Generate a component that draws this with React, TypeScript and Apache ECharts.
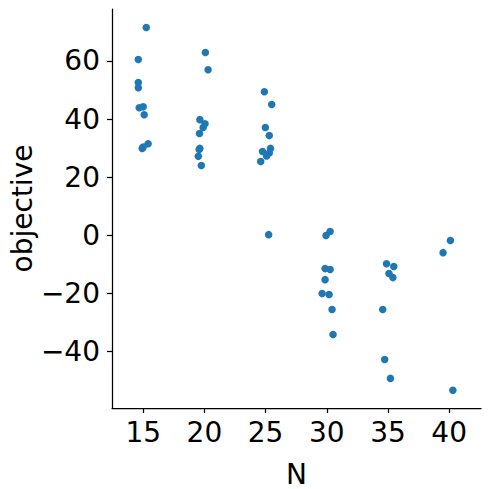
import React, { useEffect, useRef } from "react";
import * as echarts from "echarts";

// jittered N positions (strip plot) and objective values
const nPositions = [
  15.25, 14.6, 14.6, 14.6, 14.67, 15.0, 15.08, 14.92, 15.0, 15.4,
  20.08, 20.3, 19.63, 20.05, 19.9, 19.6, 19.63, 19.57, 19.5, 19.75,
  24.9, 25.5, 24.98, 25.3, 24.75, 25.4, 25.3, 25.08, 24.6, 25.25,
  30.27, 29.94, 29.86, 30.27, 29.86, 29.62, 30.19, 30.43, 30.51,
  34.88, 35.47, 35.08, 35.4, 34.57, 34.73, 35.2,
  40.1, 39.5, 40.3,
];
const objectiveValues = [
  71.5, 60.5, 52.6, 50.8, 43.9, 44.2, 41.5, 29.9, 30.4, 31.5,
  62.9, 57.0, 39.8, 38.4, 37.1, 35.0, 29.9, 29.5, 27.2, 24.0,
  49.4, 45.0, 37.1, 34.3, 28.8, 29.9, 28.3, 27.3, 25.4, 0.2,
  1.3, -0.1, -11.5, -11.8, -15.3, -20.1, -20.4, -25.6, -34.2,
  -9.8, -10.8, -13.2, -14.6, -25.6, -42.8, -49.3,
  -1.8, -6.0, -53.4,
];
const xTicks = [15, 20, 25, 30, 35, 40];
const yTicks = [-40, -20, 0, 20, 40, 60];

export default function App() {
  const ref = useRef<HTMLDivElement>(null);
  useEffect(() => {
    if (!ref.current) return;
    const chart = echarts.init(ref.current, null, { renderer: "svg" });
    const font = "DejaVu Sans";
    const fmt = (v: number) => String(v).replace("-", "\u2212");
    chart.setOption({
      animation: false,
      grid: { left: 112, right: 9, top: 9, bottom: 81, containLabel: false, outerBoundsMode: "none" },
      xAxis: {
        type: "value",
        min: 12.45,
        max: 42.6,
        interval: 5,
        name: "N",
        nameLocation: "middle",
        nameGap: 52,
        nameMoveOverlap: false,
        nameTextStyle: { fontFamily: font, fontSize: 28, color: "#000" },
        splitLine: { show: false },
        axisLine: { onZero: false, lineStyle: { color: "#000", width: 1.25 } },
        axisTick: { show: true, length: 5, lineStyle: { color: "#000", width: 1.25 }, customValues: xTicks },
        axisLabel: { fontFamily: font, fontSize: 28, color: "#000", margin: 10, customValues: xTicks, formatter: fmt },
      },
      yAxis: {
        type: "value",
        min: -59.5,
        max: 77.9,
        name: "objective",
        nameLocation: "middle",
        nameGap: 76,
        nameMoveOverlap: false,
        nameTextStyle: { fontFamily: font, fontSize: 28, color: "#000" },
        splitLine: { show: false },
        axisLine: { show: true, onZero: false, lineStyle: { color: "#000", width: 1.25 } },
        axisTick: { show: true, length: 5, lineStyle: { color: "#000", width: 1.25 }, customValues: yTicks },
        axisLabel: { fontFamily: font, fontSize: 28, color: "#000", margin: 12, customValues: yTicks, formatter: fmt },
      },
      series: [
        {
          type: "scatter",
          data: nPositions.map((n, i) => [n, objectiveValues[i]]),
          symbolSize: 7.5,
          itemStyle: { color: "#1f77b4", opacity: 1 },
        },
      ],
    });
    return () => chart.dispose();
  }, []);
  return (
    <div
      ref={ref}
      style={{ position: "fixed", left: 0, top: 0, width: 490, height: 489, background: "#fff" }}
    />
  );
}
